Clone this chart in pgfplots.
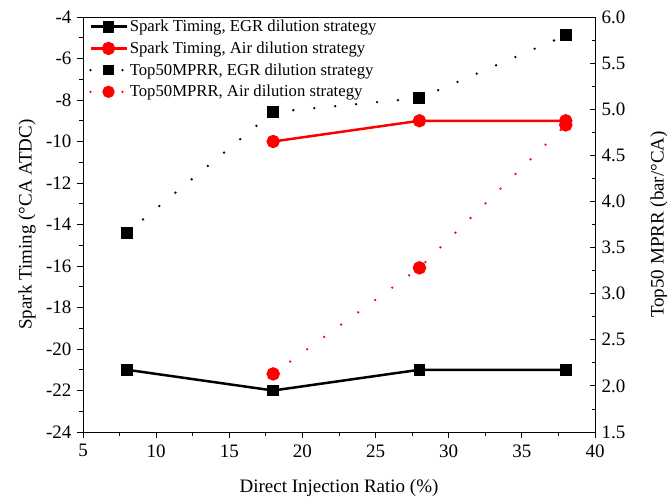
\documentclass[border=0pt]{standalone}
\usepackage{pgfplots}
\pgfplotsset{compat=1.18}
\usepackage{fontspec}
\setmainfont{Liberation Serif}
\begin{document}
\begin{tikzpicture}
\pgfplotsset{
  every axis/.append style={
    scale only axis, width=512pt, height=415pt,
    xmin=5, xmax=40,
    /pgf/number format/assume math mode=true,
    tick style={black, line width=0.9pt},
    major tick length=6pt, minor tick length=3.5pt,
    axis line style={line width=1pt},
    ticklabel style={font=\fontsize{19}{19}\selectfont},
    label style={font=\fontsize{19}{19}\selectfont},
  },
  egrdot/.style={black, line width=2.6pt, line cap=round, dash pattern=on 0pt off 21pt, mark=square*, mark size=4.7pt, mark options={solid}},
  airdot/.style={red, line width=2.6pt, line cap=round, dash pattern=on 0pt off 21pt, mark=*, mark size=5.4pt, mark options={solid}},
}
\begin{axis}[
  name=ax,
  ymin=-24, ymax=-4,
  xtick={5,10,...,40}, ytick={-24,-22,...,-4},
  minor x tick num=1, minor y tick num=1,
  xtick pos=bottom, ytick pos=left, tick align=outside,
  xticklabel style={yshift=-3pt},
  yticklabel style={xshift=-2pt},
  xlabel={Direct Injection Ratio (\%)},
  ylabel={Spark Timing (°CA ATDC)},
  xlabel style={at={(axis description cs:0.5,-0.135)}, anchor=center},
  ylabel style={at={(axis description cs:-0.109,0.5)}, anchor=center},
  legend style={draw=none, fill=none, at={(rel axis cs:0,1)}, anchor=north west, xshift=3pt, yshift=1pt,
    font=\fontsize{16.7}{16.7}\selectfont, row sep=4.6pt},
  legend cell align=left,
  legend image code/.code={\draw[#1, mark repeat=2, mark phase=2] plot coordinates {(0pt,0pt) (18pt,0pt) (36pt,0pt)};},
]
\addplot[black, line width=2.5pt, mark=square*, mark size=4.7pt] coordinates {(8,-21) (18,-22) (28,-21) (38,-21)};
\addlegendentry{Spark Timing, EGR dilution strategy}
\addplot[red, line width=2.5pt, mark=*, mark size=5.4pt] coordinates {(18,-10) (28,-9) (38,-9)};
\addlegendentry{Spark Timing, Air dilution strategy}
\addlegendimage{egrdot, dash pattern=on 0pt off 16pt, mark size=4pt}
\addlegendentry{Top50MPRR, EGR dilution strategy}
\addlegendimage{airdot, dash pattern=on 0pt off 16pt, mark size=4.8pt}
\addlegendentry{Top50MPRR, Air dilution strategy}
\end{axis}
\begin{axis}[
  ymin=1.5, ymax=6,
  axis y line*=right, axis x line=none,
  ytick={1.5,2,...,6}, minor y tick num=1, tick align=inside,
  major tick length=5pt, minor tick length=3pt,
  yticklabel style={xshift=3pt, /pgf/number format/fixed, /pgf/number format/fixed zerofill, /pgf/number format/precision=1},
  ylabel={Top50 MPRR (bar/°CA)},
  ylabel style={at={(axis description cs:1.125,0.5)}, anchor=center},
]
\addplot[egrdot] coordinates {(8,3.66) (18,4.97) (28,5.12) (38,5.80)};
\addplot[airdot] coordinates {(18,2.13) (28,3.28) (38,4.83)};
\end{axis}
\pgfresetboundingbox
\path ([shift={(-83pt,-67pt)}]ax.south west) rectangle ([shift={(72pt,17pt)}]ax.north east);
\end{tikzpicture}
\end{document}
